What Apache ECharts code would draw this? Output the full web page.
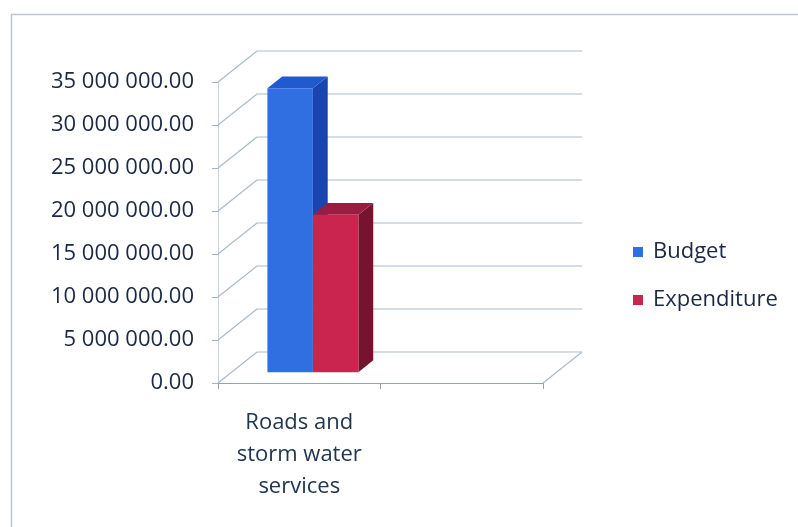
<!DOCTYPE html>
<html>
<head>
<meta charset="utf-8">
<title>Roads and storm water services – Budget vs Expenditure</title>
<script src="https://cdn.jsdelivr.net/npm/echarts@6/dist/echarts.min.js"></script>
<style>
  html, body { margin: 0; padding: 0; background: #ffffff; }
  #chart { width: 798px; height: 527px; }
</style>
</head>
<body>
<div id="chart"></div>
<script>
// ---- data ----
const categories = ['Roads and\nstorm water\nservices', ''];
const seriesNames = ['Budget', 'Expenditure'];
const budget = [33000000, null];
const expenditure = [18300000, null];
const valueTicks = [0, 5000000, 10000000, 15000000, 20000000, 25000000, 30000000, 35000000];

// ---- 3D look (oblique projection) ----
const DEPTH_X = 39;     // full floor depth, horizontal shift
const DEPTH_Y = -31;    // full floor depth, vertical shift
const BAR_FRONT = 0.35; // bars start this far back into the floor
const BAR_DEPTH = 0.38; // thickness of each bar as a share of the floor depth
const BAR_SHARE = 0.28; // bar width as a share of the category slot

const FONT = '"Open Sans", "Noto Sans", sans-serif';
const TEXT = '#1b2842';
const GRID = '#a9bccb';

const faces = [
  { front: '#2f6fe1', top: '#2159cf', side: '#1a45b0' },
  { front: '#c9254f', top: '#9b1c42', side: '#74142f' }
];

function fmt(v) {
  const parts = Number(v).toFixed(2).split('.');
  return parts[0].replace(/\B(?=(\d{3})+(?!\d))/g, ' ') + '.' + parts[1];
}

// walls: diagonal from each front tick to the back wall plus the back gridline
function renderWalls(params, api) {
  const v = api.value(1);
  const slot = api.size([1, 0])[0];
  const first = api.coord([0, v]);
  const last = api.coord([categories.length - 1, v]);
  const xl = first[0] - slot / 2;
  const xr = last[0] + slot / 2;
  const y = first[1];
  const style = { stroke: GRID, lineWidth: 1.2, fill: null };
  const children = [
    { type: 'line', shape: { x1: xl, y1: y, x2: xl + DEPTH_X, y2: y + DEPTH_Y }, style },
    { type: 'line', shape: { x1: xl + DEPTH_X, y1: y + DEPTH_Y, x2: xr + DEPTH_X, y2: y + DEPTH_Y }, style }
  ];
  if (v === 0) {
    children.push({ type: 'line', shape: { x1: xr, y1: y, x2: xr + DEPTH_X, y2: y + DEPTH_Y }, style });
  }
  return { type: 'group', children };
}

function makeBarRenderer(idx) {
  return function (params, api) {
    const v = api.value(1);
    if (v == null || isNaN(v)) return null;
    const cat = api.value(0);
    const slot = api.size([1, 0])[0];
    const base = api.coord([cat, 0]);
    const top = api.coord([cat, v]);
    const bw = slot * BAR_SHARE;
    const gap = (slot - bw * seriesNames.length) / 2;
    const sx = DEPTH_X * BAR_FRONT, sy = DEPTH_Y * BAR_FRONT;
    const dx = DEPTH_X * BAR_DEPTH, dy = DEPTH_Y * BAR_DEPTH;
    const x0 = base[0] - slot / 2 + gap + idx * bw + sx;
    const x1 = x0 + bw;
    const yb = base[1] + sy;
    const yt = top[1] + sy;
    const c = faces[idx];
    return {
      type: 'group',
      children: [
        { type: 'polygon', shape: { points: [[x1, yb], [x1, yt], [x1 + dx, yt + dy], [x1 + dx, yb + dy]] },
          style: { fill: c.side } },
        { type: 'polygon', shape: { points: [[x0, yt], [x1, yt], [x1 + dx, yt + dy], [x0 + dx, yt + dy]] },
          style: { fill: c.top } },
        { type: 'rect', shape: { x: x0, y: yt, width: bw, height: yb - yt },
          style: { fill: c.front } }
      ]
    };
  };
}

const chart = echarts.init(document.getElementById('chart'), null, { renderer: 'canvas' });

chart.setOption({
  backgroundColor: '#ffffff',
  animation: false,
  graphic: [{
    type: 'rect', left: 9, top: 12, silent: true,
    shape: { width: 830, height: 560 },
    style: { fill: null, stroke: '#b7c8d4', lineWidth: 1.5 }
  }],
  grid: { left: 218, right: 255, top: 82, bottom: 144, containLabel: false },
  legend: {
    orient: 'vertical',
    left: 628,
    top: 236,
    itemWidth: 10,
    itemHeight: 10,
    itemGap: 26,
    icon: 'rect',
    data: seriesNames,
    textStyle: { fontFamily: FONT, fontSize: 22, color: TEXT, lineHeight: 22, padding: [0, 0, 0, 5] }
  },
  xAxis: {
    type: 'category',
    data: categories,
    axisLine: { show: true, lineStyle: { color: '#8ea6ba', width: 1.2 } },
    axisTick: { show: true, length: 6, lineStyle: { color: '#8ea6ba' } },
    axisLabel: {
      interval: 0, margin: 24, fontFamily: FONT, fontSize: 22,
      color: '#213650', lineHeight: 32, align: 'center'
    },
    splitLine: { show: false }
  },
  yAxis: {
    type: 'value',
    min: 0,
    max: 35000000,
    interval: 5000000,
    axisLine: { show: true, lineStyle: { color: '#c4d3de', width: 1 } },
    axisTick: { show: true, length: 6, lineStyle: { color: '#9fb4c4' } },
    axisLabel: { margin: 24, fontFamily: FONT, fontSize: 22, color: TEXT, formatter: fmt },
    splitLine: { show: false }
  },
  series: [
    {
      type: 'custom', name: '_walls', silent: true, z: 1,
      renderItem: renderWalls,
      encode: { x: 0, y: 1 },
      data: valueTicks.map(v => [0, v])
    },
    {
      type: 'custom', name: seriesNames[0], z: 3,
      itemStyle: { color: faces[0].front },
      renderItem: makeBarRenderer(0),
      encode: { x: 0, y: 1 },
      data: budget.map((v, i) => [i, v])
    },
    {
      type: 'custom', name: seriesNames[1], z: 4,
      itemStyle: { color: faces[1].front },
      renderItem: makeBarRenderer(1),
      encode: { x: 0, y: 1 },
      data: expenditure.map((v, i) => [i, v])
    }
  ]
});
</script>
</body>
</html>
